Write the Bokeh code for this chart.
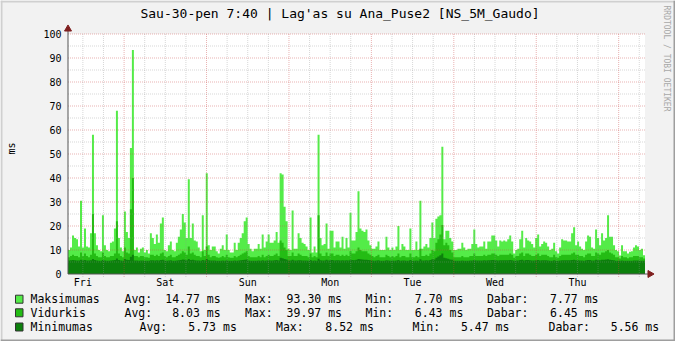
import math
from bokeh.plotting import figure
from bokeh.models import Range1d
from bokeh.core.properties import value
from bokeh.embed import file_html
from bokeh.resources import INLINE

TITLE = "Sau-30-pen 7:40 | Lag'as su Ana_Puse2 [NS_5M_Gaudo]"
Y_LABEL = "ms"
WATERMARK = "RRDTOOL / TOBI OETIKER"
DAY_LABELS = ["Fri", "Sat", "Sun", "Mon", "Tue", "Wed", "Thu"]
Y_TICKS = [0, 10, 20, 30, 40, 50, 60, 70, 80, 90, 100]
Y_MINOR = [5, 15, 25, 35, 45, 55, 65, 75, 85, 95]
START_MIN = 7 * 60 + 40          # Friday 07:40
SPAN_MIN = 7 * 24 * 60           # one week, in minutes
Y_MAX = 100

maksimumas = [
    10, 11, 16, 15, 14.5, 11.5, 30.5, 11, 19, 11.5,
    11, 17, 58, 17, 12, 10, 9.5, 24.5, 12, 10,
    9.5, 13, 13.5, 19, 68, 15, 11, 9.5, 26, 17.5,
    15, 52.5, 93.3, 10, 11, 9, 10.5, 11, 9, 10,
    8.5, 17, 15, 12.5, 16.5, 13, 21, 23.5, 10, 9.5,
    12, 13.5, 10, 9.5, 13, 15.5, 18.5, 25, 21.5, 15,
    39.5, 15, 21, 14, 13.5, 11, 9.5, 24.5, 10, 42,
    12, 10, 11.5, 11.5, 9.5, 8.5, 10.5, 12, 10, 16.5,
    10, 9, 9, 13, 10, 13, 15, 17, 22, 23.5,
    12.5, 10.5, 9.5, 10.5, 10.5, 12.5, 10.5, 16.5, 11, 13.5,
    16.5, 13, 13, 14, 17.5, 13, 42, 41.5, 28, 22,
    10.5, 10, 26.5, 10.5, 10.5, 17, 15, 13, 12.5, 11.5,
    10, 23.5, 9, 11.5, 9, 58, 15, 12, 12.5, 21,
    10.5, 18, 18, 11, 13.5, 13.5, 11, 15.5, 10.5, 15,
    11, 25.5, 14, 14, 17.5, 34.5, 19, 18, 17.5, 18.5,
    14, 12, 10.5, 10.5, 11.5, 13.5, 10, 10, 10, 15.5,
    11, 10, 11, 10, 11.5, 20, 10, 12.5, 11.5, 10,
    10, 19, 10, 10, 13.5, 10, 30.5, 10.5, 11.5, 12.5,
    11, 15, 21.5, 15, 23, 24, 24.5, 53, 14.5, 18,
    18, 15, 13.5, 10, 10, 10.5, 10.5, 13, 11, 10,
    10.5, 10.5, 12.5, 18.5, 12.5, 11, 11.5, 11.5, 13.5, 10.5,
    13.5, 13.5, 16, 16, 14, 11.5, 14, 13.5, 14, 13.5,
    14.5, 16, 13.5, 8.5, 10, 10.5, 14.5, 18, 11, 15,
    14, 13.5, 12.5, 11, 15, 16.5, 11.5, 12.5, 13.5, 13,
    11.5, 10, 10.5, 13, 9.5, 8.5, 11, 14.5, 14, 14,
    13.5, 13.5, 17, 19.5, 12, 13.5, 11.5, 10.5, 10, 13.5,
    16, 15.5, 11, 10.5, 18.5, 15, 12, 17, 14, 15,
    24.5, 15.5, 15.5, 12, 10, 9.5, 7.7, 12, 9.5, 9.5,
    8.5, 9.3, 9.5, 11, 12, 11.5, 10, 10.5, 7.77,
]

vidurkis = [
    7, 7.5, 8, 7.5, 7.5, 7, 9, 7.5, 8.5, 7.5,
    7, 8, 25, 8.5, 7.5, 7, 7, 9, 7.5, 7,
    7, 7.5, 7.5, 8.5, 22, 8.5, 7.5, 7, 11, 9,
    8.5, 27, 40, 7.5, 7.5, 7, 7.5, 7.5, 7, 7,
    6.8, 8, 8, 7.5, 8, 7.5, 8.5, 9, 7.5, 7,
    7.5, 8, 7, 7, 7.5, 8, 8.5, 9.5, 9, 8,
    11.5, 8.5, 9, 8, 7.5, 7.5, 7, 9.5, 7.5, 11.5,
    8, 7, 7.5, 7.5, 7, 6.8, 7, 7.5, 7, 8,
    7, 6.8, 6.8, 7.5, 7, 7.5, 8, 8.5, 9, 9.5,
    7.5, 7, 7, 7, 7, 7.5, 7, 8, 7, 7.5,
    8, 7.5, 7.5, 8, 8.5, 7.5, 14, 13, 11, 10,
    7.5, 7.5, 9, 7.5, 7.5, 8.5, 8, 7.5, 7.5, 7.5,
    7, 8.5, 7, 7.5, 7, 24.5, 8.5, 7.5, 7.5, 9,
    7.5, 8.5, 8.5, 7.5, 8, 8, 7.5, 8, 7.5, 8,
    7.5, 9.5, 8.5, 8.5, 9.5, 11, 10, 9.5, 9.5, 9.5,
    8.5, 8, 7.5, 7, 7.5, 8, 7, 7, 7, 8,
    7.5, 7, 7.5, 7, 7.5, 8.5, 7, 7.5, 7.5, 7,
    7, 8.5, 7, 7, 7.5, 7, 10.5, 7.5, 7.5, 8,
    7.5, 8.5, 10, 9.5, 13, 14.5, 16.5, 20.4, 12, 13,
    12, 10, 9, 7, 7, 7, 7, 7.5, 7, 7,
    7, 7.5, 7.5, 8.5, 7.5, 7.5, 7.5, 7.5, 8, 7.5,
    8, 8, 8.5, 8.5, 8, 7.5, 8, 8, 8, 8,
    8, 8.5, 8, 6.8, 7.5, 7.5, 8.5, 9, 7.5, 8.5,
    8.5, 8, 7.5, 7.5, 8, 8.5, 7.5, 8, 8, 8,
    7.5, 7, 7, 8, 7, 6.8, 7.5, 8, 8, 8,
    8, 8, 8.5, 9, 8, 8, 7.5, 7.5, 7, 8,
    8.5, 8.5, 7.5, 7.5, 9, 8.5, 8, 9, 9, 9.5,
    10, 9, 8.5, 8, 7, 7, 6.5, 7.5, 7, 7,
    6.6, 7, 7, 7.5, 7.5, 7.5, 7, 7, 6.45,
]

minimumas = [
    5.6, 5.7, 5.8, 5.7, 5.6, 5.6, 5.9, 5.7, 5.8, 5.6,
    5.6, 5.7, 6.2, 5.8, 5.6, 5.5, 5.5, 5.8, 5.6, 5.5,
    5.5, 5.6, 5.7, 5.8, 6.5, 5.8, 5.6, 5.5, 6.2, 5.9,
    5.8, 7.2, 8.0, 5.6, 5.6, 5.5, 5.6, 5.6, 5.5, 5.5,
    5.5, 5.7, 5.7, 5.6, 5.7, 5.6, 5.8, 5.9, 5.6, 5.5,
    5.6, 5.7, 5.5, 5.5, 5.6, 5.7, 5.8, 6.0, 5.9, 5.7,
    6.3, 5.8, 5.9, 5.7, 5.6, 5.6, 5.5, 5.8, 5.6, 6.2,
    5.7, 5.6, 5.6, 5.6, 5.5, 5.5, 5.5, 5.6, 5.5, 5.7,
    5.5, 5.5, 5.5, 5.6, 5.5, 5.6, 5.7, 5.8, 5.9, 6.0,
    5.6, 5.5, 5.5, 5.5, 5.5, 5.6, 5.5, 5.7, 5.5, 5.6,
    5.7, 5.6, 5.6, 5.7, 5.8, 5.6, 6.8, 6.6, 6.2, 6.0,
    5.6, 5.6, 5.9, 5.6, 5.6, 5.7, 5.7, 5.6, 5.6, 5.6,
    5.5, 5.8, 5.5, 5.6, 5.5, 6.4, 5.7, 5.6, 5.6, 5.9,
    5.6, 5.8, 5.8, 5.6, 5.7, 5.7, 5.6, 5.7, 5.6, 5.7,
    5.6, 5.9, 5.8, 5.7, 5.9, 6.3, 6.1, 6.0, 5.9, 5.9,
    5.8, 5.7, 5.6, 5.5, 5.6, 5.7, 5.5, 5.5, 5.5, 5.7,
    5.6, 5.5, 5.6, 5.5, 5.6, 5.8, 5.5, 5.6, 5.6, 5.5,
    5.5, 5.8, 5.5, 5.5, 5.6, 5.5, 6.1, 5.6, 5.6, 5.7,
    5.6, 5.8, 6.1, 6.0, 6.8, 7.3, 7.8, 8.52, 6.8, 6.6,
    6.4, 6.0, 5.9, 5.5, 5.5, 5.5, 5.5, 5.6, 5.5, 5.5,
    5.5, 5.6, 5.6, 5.8, 5.6, 5.6, 5.6, 5.6, 5.7, 5.6,
    5.7, 5.7, 5.8, 5.8, 5.7, 5.6, 5.7, 5.7, 5.7, 5.7,
    5.7, 5.8, 5.7, 5.5, 5.6, 5.6, 5.8, 5.9, 5.6, 5.8,
    5.8, 5.7, 5.6, 5.6, 5.7, 5.8, 5.6, 5.7, 5.7, 5.7,
    5.6, 5.5, 5.5, 5.7, 5.5, 5.47, 5.6, 5.7, 5.7, 5.7,
    5.7, 5.7, 5.8, 5.9, 5.7, 5.7, 5.6, 5.6, 5.5, 5.7,
    5.8, 5.8, 5.6, 5.6, 5.9, 5.8, 5.7, 5.9, 5.9, 6.0,
    6.1, 5.9, 5.8, 5.7, 5.5, 5.5, 5.5, 5.6, 5.5, 5.5,
    5.5, 5.5, 5.5, 5.6, 5.6, 5.6, 5.5, 5.5, 5.56,
]

SERIES_NAMES = ["Maksimumas", "Vidurkis", "Minimumas"]
STAT_LABELS = ["Avg:", "Max:", "Min:", "Dabar:"]
STAT_AVG = ["14.77 ms", "8.03 ms", "5.73 ms"]
STAT_MAX = ["93.30 ms", "39.97 ms", "8.52 ms"]
STAT_MIN = ["7.70 ms", "6.43 ms", "5.47 ms"]
STAT_NOW = ["7.77 ms", "6.45 ms", "5.56 ms"]
COLORS = ["#54EC48", "#24BC14", "#0C800C"]

MONO = "DejaVu Sans Mono"
BACK = "#F2F2F2"
AXIS_COL = "#555555"
ARROW_RED = "#7F1F1F"
GRID_GRAY = "#8F8F8F"
GRID_RED = "#C84040"

# ---- page geometry (pixels) ----
W, H = 675, 341
PX_L, PX_R, PX_T, PX_B = 67.5, 644.5, 33.5, 273.5   # graph area edges on the page
XS = SPAN_MIN / (PX_R - PX_L)                        # minutes per pixel
YS = Y_MAX / (PX_B - PX_T)                           # ms per pixel


def X(px):   # page pixel x -> data x
    return (px - PX_L) * XS


def Y(py):   # page pixel y -> data y
    return (PX_B - py) * YS


p = figure(width=W, height=H, output_backend="svg", toolbar_location=None,
           title=None, x_axis_location=None, y_axis_location=None,
           x_range=Range1d(X(0), X(W)), y_range=Range1d(Y(H), Y(0)),
           min_border=0, min_border_left=0, min_border_right=0,
           min_border_top=0, min_border_bottom=0,
           background_fill_color=BACK, border_fill_color=BACK,
           outline_line_color=None)
p.xgrid.visible = False
p.ygrid.visible = False

# canvas shading frame (3D border)
p.quad(left=[X(0), X(0)], right=[X(W), X(2)], top=[Y(0), Y(0)], bottom=[Y(2), Y(H)],
       fill_color="#D0D0D0", line_color=None)
p.quad(left=[X(0), X(W - 2)], right=[X(W), X(W)], top=[Y(H - 2), Y(0)], bottom=[Y(H), Y(H)],
       fill_color="#9E9E9E", line_color=None)

# white graph canvas
p.quad(left=[0], right=[SPAN_MIN], bottom=[0], top=[Y_MAX], fill_color="#FFFFFF", line_color=None)


def step_xy(vals):
    n = len(vals)
    dt = SPAN_MIN / n
    xs, ys = [], []
    for i, v in enumerate(vals):
        xs += [i * dt, (i + 1) * dt]
        ys += [v, v]
    return xs, ys


for vals, col in zip([maksimumas, vidurkis, minimumas], COLORS):
    xs, ys = step_xy(vals)
    p.varea(x=xs, y1=0, y2=ys, fill_color=col, fill_alpha=1.0)

# ---- time ticks ----
first_midnight = 24 * 60 - START_MIN
first_noon = 12 * 60 - START_MIN
midnights = [first_midnight + 1440 * k for k in range(7)]
noons = [first_noon + 1440 * k for k in range(7)]
six_hours = [first_noon - 720 + 360 * k for k in range(30)
             if 0 < first_noon - 720 + 360 * k < SPAN_MIN and (first_noon - 720 + 360 * k) not in midnights]

# ---- grid (drawn over the data like rrdtool) ----
tick_below = Y(PX_B + 3)
p.segment(x0=six_hours, x1=six_hours, y0=[tick_below] * len(six_hours), y1=[Y_MAX] * len(six_hours),
          line_color=GRID_GRAY, line_alpha=0.36, line_width=1, line_dash="1 1")
p.segment(x0=[0] * len(Y_MINOR), x1=[SPAN_MIN] * len(Y_MINOR), y0=Y_MINOR, y1=Y_MINOR,
          line_color=GRID_GRAY, line_alpha=0.36, line_width=1, line_dash="1 1")
p.segment(x0=midnights, x1=midnights, y0=[tick_below] * len(midnights), y1=[Y_MAX] * len(midnights),
          line_color=GRID_RED, line_alpha=0.4, line_width=1, line_dash="1 1")
p.segment(x0=[0] * (len(Y_TICKS) - 1), x1=[SPAN_MIN] * (len(Y_TICKS) - 1), y0=Y_TICKS[1:], y1=Y_TICKS[1:],
          line_color=GRID_RED, line_alpha=0.4, line_width=1, line_dash="1 1")

# ---- axes with arrows ----
p.segment(x0=[0, 0], x1=[0, X(PX_R + 4)], y0=[0, 0], y1=[Y(PX_T - 4), 0],
          line_color=AXIS_COL, line_width=1)
p.scatter(x=[0], y=[Y(PX_T - 5)], marker="triangle", size=7,
          fill_color=ARROW_RED, line_color=ARROW_RED)
p.scatter(x=[X(PX_R + 5)], y=[0], marker="triangle", size=7, angle=-math.pi / 2,
          fill_color=ARROW_RED, line_color=ARROW_RED)

# y tick labels
p.text(x=[X(61)] * len(Y_TICKS), y=Y_TICKS, text=[str(t) for t in Y_TICKS],
       text_align="right", text_baseline="middle",
       text_font=value(MONO), text_font_size="10px", text_color="#000000")
# x (day) labels at noon
p.text(x=noons, y=[Y(281.5)] * len(noons), text=DAY_LABELS,
       text_align="center", text_baseline="middle",
       text_font=value(MONO), text_font_size="10px", text_color="#000000")

# title, vertical label and watermark
p.text(x=[X(339.5)], y=[Y(13)], text=[TITLE], text_align="center", text_baseline="middle",
       text_font=value(MONO), text_font_size="13px", text_color="#000000")
p.text(x=[X(11)], y=[Y(148)], text=[Y_LABEL], angle=math.pi / 2,
       text_align="center", text_baseline="middle",
       text_font=value(MONO), text_font_size="10px", text_color="#000000")
p.text(x=[X(666)], y=[Y(5)], text=[WATERMARK], angle=-math.pi / 2,
       text_align="left", text_baseline="middle",
       text_font=value(MONO), text_font_size="8px", text_color="#A8A8A8")

# ---- legend ----
ROW_Y = [298.7, 312.3, 326.5]
LEG_FS = "11.5px"
for r in range(3):
    yc = ROW_Y[r]
    p.quad(left=[X(15)], right=[X(22.5)], top=[Y(yc - 4)], bottom=[Y(yc + 4)],
           fill_color=COLORS[r], line_color="#333333", line_width=1)
    if r < 2:
        label_x = [124, 244.5, 365, 486.4]
        value_end = [220.1, 341.5, 462.8, 598.0]
    else:
        label_x = [139, 275.5, 412, 548]
        value_end = [236.3, 373.3, 508.9, 658.7]
    vals = [STAT_AVG[r], STAT_MAX[r], STAT_MIN[r], STAT_NOW[r]]
    p.text(x=[X(30)] + [X(v) for v in label_x], y=[Y(yc)] * 5,
           text=[SERIES_NAMES[r]] + STAT_LABELS,
           text_align="left", text_baseline="middle",
           text_font=value(MONO), text_font_size=LEG_FS, text_color="#000000")
    p.text(x=[X(v) for v in value_end], y=[Y(yc)] * 4, text=vals,
           text_align="right", text_baseline="middle",
           text_font=value(MONO), text_font_size=LEG_FS, text_color="#000000")

open("out.html", "w").write(file_html(p, INLINE))
